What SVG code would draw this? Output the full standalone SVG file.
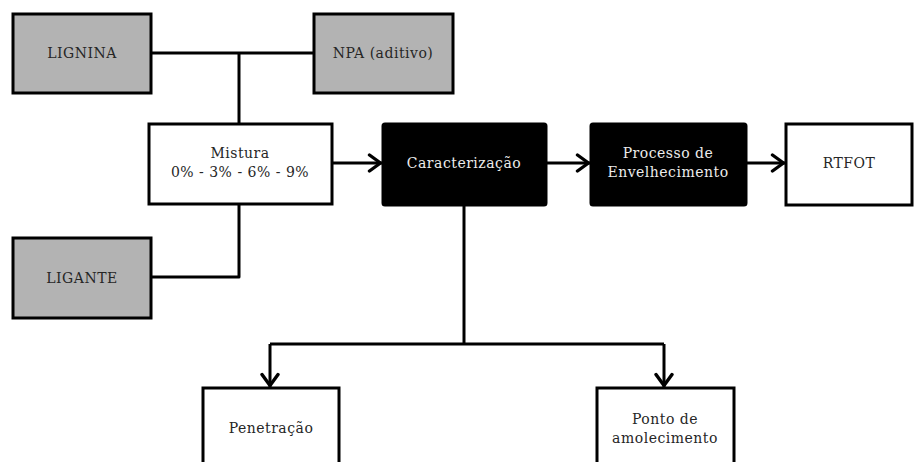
<svg xmlns="http://www.w3.org/2000/svg" width="914" height="462" viewBox="0 0 914 462">
  <defs>
    <marker id="chev" viewBox="0 0 16 20" refX="15" refY="10" markerWidth="16" markerHeight="20" markerUnits="userSpaceOnUse" orient="auto">
      <path d="M2.5,2 L13.5,10 L2.5,18" fill="none" stroke="#000" stroke-width="3.4" stroke-linecap="round" stroke-linejoin="round"/>
    </marker>
  </defs>
  <style>
    .box { stroke: #000; stroke-width: 3; }
    .grey { fill: #b3b3b3; }
    .white { fill: #fff; }
    .dark { fill: #000; }
    .lbl { font-family: "DejaVu Serif", serif; font-size: 14px; letter-spacing: 0.5px; fill: #262626; text-anchor: middle; }
    .inv { fill: #ececec; }
    .wire { fill: none; stroke: #000; stroke-width: 3; stroke-linejoin: round; }
  </style>
  <rect width="914" height="462" fill="#fff"/>

  <g id="connectors">
    <path class="wire" d="M151,53 H314"/>
    <path class="wire" d="M239,53 V124"/>
    <path class="wire" d="M239,204 V277 H151"/>
    <path class="wire" d="M332,163 H382" marker-end="url(#chev)"/>
    <path class="wire" d="M546,163 H590" marker-end="url(#chev)"/>
    <path class="wire" d="M746,163 H785" marker-end="url(#chev)"/>
    <path class="wire" d="M464,205 V344"/>
    <path class="wire" d="M270,344 H664"/>
    <path class="wire" d="M270,344 V387" marker-end="url(#chev)"/>
    <path class="wire" d="M664,344 V387" marker-end="url(#chev)"/>
  </g>

  <g id="lignina">
    <rect class="box grey" x="13" y="14" width="138" height="79"/>
    <text class="lbl" x="82" y="58">LIGNINA</text>
  </g>
  <g id="npa">
    <rect class="box grey" x="314" y="14" width="139" height="79"/>
    <text class="lbl" x="383" y="58">NPA (aditivo)</text>
  </g>
  <g id="ligante">
    <rect class="box grey" x="13" y="238" width="138" height="80"/>
    <text class="lbl" x="82" y="283">LIGANTE</text>
  </g>
  <g id="mistura">
    <rect class="box white" x="149" y="124" width="183" height="80"/>
    <text class="lbl" x="240" y="158">Mistura</text>
    <text class="lbl" x="240" y="177">0% - 3% - 6% - 9%</text>
  </g>
  <g id="caracterizacao">
    <rect class="box dark" x="383" y="124" width="163" height="81" rx="2"/>
    <text class="lbl inv" x="464" y="168">Caracterização</text>
  </g>
  <g id="envelhecimento">
    <rect class="box dark" x="591" y="124" width="155" height="81" rx="2"/>
    <text class="lbl inv" x="668" y="158">Processo de</text>
    <text class="lbl inv" x="668" y="177">Envelhecimento</text>
  </g>
  <g id="rtfot">
    <rect class="box white" x="786" y="124" width="126" height="81"/>
    <text class="lbl" x="849" y="168">RTFOT</text>
  </g>
  <g id="penetracao">
    <rect class="box white" x="203" y="388" width="136" height="80"/>
    <text class="lbl" x="271" y="433">Penetração</text>
  </g>
  <g id="amolecimento">
    <rect class="box white" x="597" y="388" width="137" height="80"/>
    <text class="lbl" x="665" y="424">Ponto de</text>
    <text class="lbl" x="665" y="443">amolecimento</text>
  </g>
</svg>
